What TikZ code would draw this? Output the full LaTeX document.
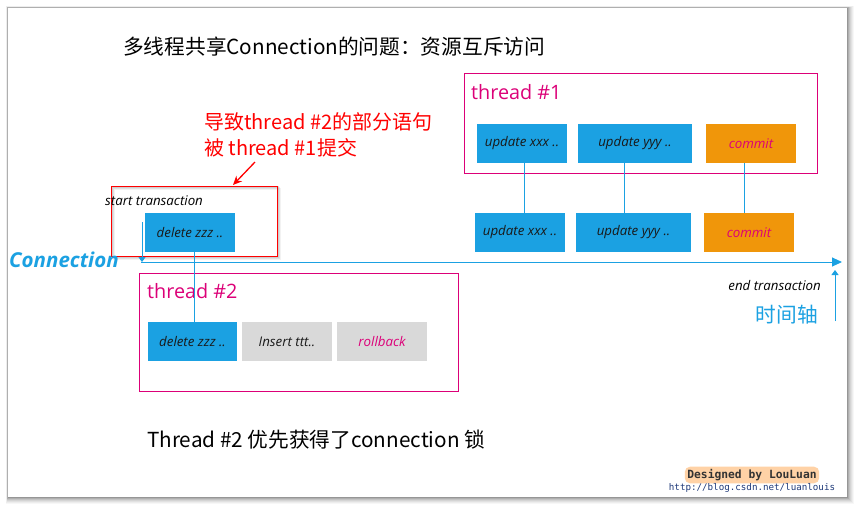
\documentclass[tikz,border=0pt]{standalone}
\usepackage{fontspec}
\setmainfont{Open Sans}
\newfontfamily\cjk{Noto Sans CJK SC}
\newfontfamily\monof{DejaVu Sans Mono}
\usetikzlibrary{arrows.meta}
\definecolor{cblue}{HTML}{1BA1E2}
\definecolor{cmag}{HTML}{DC0078}
\definecolor{corange}{HTML}{F0960A}
\definecolor{cgray}{HTML}{D9D9D9}
\definecolor{cred}{HTML}{FF0000}
\definecolor{cnavy}{HTML}{1F3A7A}
\begin{document}
\begin{tikzpicture}[x=1pt,y=-1pt,
  tframe/.style={draw=cmag, line width=0.9pt, inner sep=0pt},
  tlabel/.style={text=cmag, font=\fontsize{19.8}{22}\selectfont, inner sep=0pt, anchor=west},
  opbox/.style={inner sep=0pt, minimum height=39pt, font=\fontsize{13.3}{15}\selectfont\itshape},
  bluebox/.style={opbox, fill=cblue, text=black!90},
  orangebox/.style={opbox, fill=corange, text=cmag},
  graybox/.style={opbox, fill=cgray, text=black!90},
  rbgray/.style={opbox, fill=cgray, text=cmag},
  conn/.style={draw=cblue, line width=0.9pt},
  bigtxt/.style={font=\fontsize{20.7}{24}\selectfont\cjk, inner sep=0pt},
  smallit/.style={font=\fontsize{13.3}{15}\selectfont\itshape, inner sep=0pt}
]
\useasboundingbox (0,0) rectangle (856,507);
% slide with shadow
\foreach \i/\o in {7/0.03,6/0.04,5/0.05,4/0.06,3/0.08,2/0.10,1/0.14}
  \fill[black,opacity=\o] (8-\i*0.3,8-\i*0.3) rectangle (847+\i,497+\i);
\fill[white] (8,8) rectangle (847,497);

% title
\node[bigtxt, anchor=west] (title) at (123,47) {多线程共享Connection的问题：资源互斥访问};

% thread #1
\node[tframe, minimum width=353pt, minimum height=100pt] (t1) at (640.5,123) {};
\node[tlabel] (t1l) at (471,92) {thread \#1};
\node[bluebox, minimum width=90pt] (u1) at (522,143.5) {update xxx ..};
\node[bluebox, minimum width=114pt] (v1) at (635,143.5) {update yyy ..};
\node[orangebox, minimum width=90pt] (c1) at (751,143.5) {commit};

% connection row
\node[bluebox, minimum width=90pt] (u2) at (520,232.5) {update xxx ..};
\node[bluebox, minimum width=115pt] (v2) at (633.5,232.5) {update yyy ..};
\node[orangebox, minimum width=90pt] (c2) at (749,232.5) {commit};

\draw[conn] ([xshift=2pt]u1.south) -- ([xshift=2pt]u1.south |- u2.north);
\draw[conn] ([xshift=-11pt]v1.south) -- ([xshift=-11pt]v1.south |- v2.north);
\draw[conn] ([xshift=-7pt]c1.south) -- ([xshift=-7pt]c1.south |- c2.north);

% red box with soft shadow
\foreach \i/\o in {3/0.05,2/0.08,1/0.12}
  \draw[black, opacity=\o, line width=1.2pt] (111+\i,186+\i) rectangle (277+\i,256+\i);
\node[draw=cred, line width=0.9pt, minimum width=166pt, minimum height=70pt, inner sep=0pt] (rb) at (194,221) {};
\node[bluebox, minimum width=90pt] (d2b) at (190,232.5) {delete zzz ..};
\node[smallit, anchor=west] (st) at (105,201) {start transaction};

% red annotation
\node[anchor=north west, align=left, text=cred, font=\fontsize{20}{26}\selectfont\cjk, inner sep=0pt] (rt) at (204,112)
  {导致thread \#2的部分语句\\被 thread \#1提交};
\coordinate (ra0) at (255,162);
\coordinate (ra1) at (233,185);
\draw[cred, line width=1.3pt, -{Stealth[length=9pt,width=8pt]}] (ra0) -- (ra1);

% timeline
\coordinate (tl0) at (141,262);
\coordinate (tl1) at (842,262);
\draw[conn, -{Triangle[length=10pt,width=9pt]}] (tl0) -- (tl1);
\coordinate (sa) at (142,222);
\draw[conn, -{Triangle[length=5pt,width=7pt]}] (sa) -- (sa |- tl0);
\coordinate (ea0) at (835,321);
\coordinate (ea1) at (835,270);
\draw[conn, -{Triangle[length=5pt,width=7pt]}] (ea0) -- (ea1);
\node[anchor=west, text=cblue, inner sep=0pt, font=\fontsize{20.5}{24}\selectfont\bfseries\itshape] (cn) at (9,260) {Connection};

% thread #2
\node[tframe, minimum width=319pt, minimum height=118pt] (t2) at (298.5,332) {};
\node[tlabel] (t2l) at (147,291) {thread \#2};
\node[bluebox, minimum width=89pt] (d3) at (192.5,341.5) {delete zzz ..};
\node[graybox, minimum width=90pt] (i3) at (287,341.5) {Insert ttt..};
\node[rbgray, minimum width=90pt] (r3) at (382,341.5) {rollback};
\draw[conn] ([xshift=4pt]d2b.south) -- ([xshift=4pt]d2b.south |- d3.north);

% right labels
\node[smallit, anchor=east] (et) at (821,286) {end transaction};
\node[bigtxt, anchor=east, text=cblue] (axis) at (818,315) {时间轴};

% bottom text
\node[bigtxt, anchor=west] (bt) at (147,440) {Thread \#2 优先获得了connection 锁};

% watermark
\node[fill=orange!35, rounded corners=5pt, inner sep=2.5pt, font=\monof\bfseries\fontsize{11.3}{13}\selectfont, text=black!80] (wm) at (752,475) {Designed by LouLuan};
\node[font=\monof\fontsize{9.2}{10}\selectfont, text=cnavy, inner sep=0pt] (url) at (752,488) {http://blog.csdn.net/luanlouis};
\end{tikzpicture}
\end{document}
